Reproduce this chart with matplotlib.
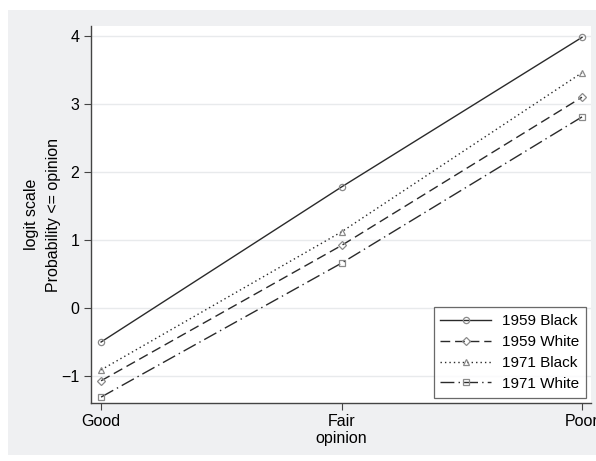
import matplotlib
matplotlib.use("Agg")
import matplotlib.pyplot as plt
from matplotlib.patches import Rectangle

plt.rcParams['font.family'] = ['Liberation Sans', 'DejaVu Sans']

# data
opinion = ['Good', 'Fair', 'Poor']
black_1959 = [-0.50, 1.78, 3.98]
white_1959 = [-1.07, 0.92, 3.10]
black_1971 = [-0.91, 1.12, 3.46]
white_1971 = [-1.31, 0.66, 2.81]
yticks = [-1, 0, 1, 2, 3, 4]

fs = 11.5

fig = plt.figure(figsize=(5.96, 4.61), dpi=100)
fig.patch.set_facecolor('white')
# grey plot region like Stata's
fig.patches.append(Rectangle((8/596, 1 - 455/461), 588/596, 445/461,
                             transform=fig.transFigure, facecolor='#eff0f2',
                             edgecolor='none', zorder=-10))

ax = fig.add_axes([91/596, 1 - 403/461, 500/596, 377/461])
ax.set_facecolor('white')

x = range(len(opinion))
lc = '#2a2a2a'
mc = '#8a8a8a'
series = [
    (black_1959, '1959 Black', '-', 'o'),
    (white_1959, '1959 White', (0, (7, 3.5)), 'D'),
    (black_1971, '1971 Black', (0, (1, 2.2)), '^'),
    (white_1971, '1971 White', (0, (10, 3, 1, 3)), 's'),
]
for y, lab, ls, mk in series:
    ax.plot(x, y, color=lc, linestyle=ls, linewidth=1.0, marker=mk,
            markersize=4.5 if mk != 'D' else 4, markerfacecolor='none',
            markeredgecolor=mc, markeredgewidth=0.9, label=lab)

ax.set_xlim(-0.042, 2.0375)
ax.set_ylim(-1.397, 4.147)
ax.set_xticks(list(x))
ax.set_xticklabels(opinion)
ax.set_yticks(yticks)
ax.set_yticklabels([str(t).replace('-', '\u2212') for t in yticks])
ax.grid(axis='y', color='#e8eaec', linewidth=1.0)
ax.set_axisbelow(True)

for s in ['top', 'right']:
    ax.spines[s].set_visible(False)
for s in ['left', 'bottom']:
    ax.spines[s].set_color('#444444')
    ax.spines[s].set_linewidth(1.0)
ax.tick_params(axis='both', colors='#444444', labelcolor='black',
               labelsize=fs, length=5, width=0.8)
ax.tick_params(axis='x', pad=3)

ax.set_xlabel('opinion', fontsize=fs, labelpad=1)
ax.set_ylabel('logit scale\nProbability <= opinion', fontsize=fs,
              labelpad=0, linespacing=1.55)

leg = ax.legend(loc='lower right', fontsize=11, frameon=True, fancybox=False,
                handlelength=3.3, borderaxespad=0.35, labelspacing=0.45,
                handletextpad=0.7, borderpad=0.45)
leg.get_frame().set_edgecolor('#444444')
leg.get_frame().set_linewidth(0.9)

fig.savefig('out.png', dpi=100)
